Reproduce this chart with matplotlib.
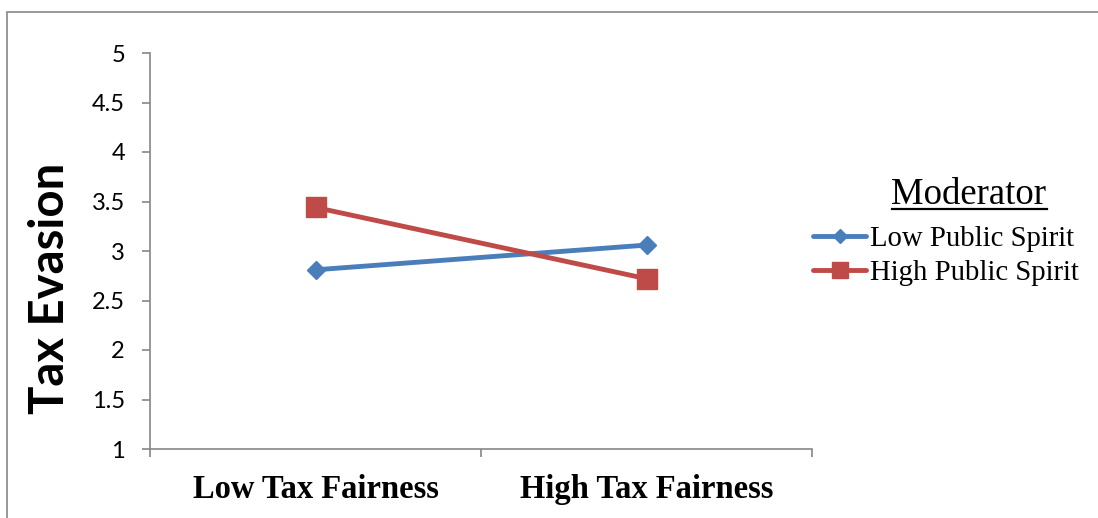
import matplotlib
matplotlib.use("Agg")
import matplotlib.pyplot as plt
from matplotlib.lines import Line2D
from matplotlib.patches import Rectangle

# Interaction of tax fairness and public spirit on tax evasion
conditions = ["Low Tax Fairness", "High Tax Fairness"]
low_spirit = [2.81, 3.06]
high_spirit = [3.44, 2.72]
series_names = ["Low Public Spirit", "High Public Spirit"]
yticks = [1, 1.5, 2, 2.5, 3, 3.5, 4, 4.5, 5]

blue = "#4A7EBB"
red = "#BE4B48"
grey = "#868686"

fig = plt.figure(figsize=(10.98, 5.18), dpi=100)
ax = fig.add_axes([150/1098, 1 - 449/518, (812 - 150)/1098, (449 - 53)/518])

x = list(range(len(conditions)))
ax.plot(x, low_spirit, color=blue, lw=3.5, marker="D", ms=9.5,
        label=series_names[0], solid_capstyle="round")
ax.plot(x, high_spirit, color=red, lw=3.5, marker="s", ms=14,
        label=series_names[1], solid_capstyle="round")

ax.set_xlim(-0.5, 1.5)
ax.set_ylim(1, 5)
ax.set_yticks(yticks)
ax.set_yticklabels([f"{v:g}" for v in yticks], family="Lato", fontsize=17)
ax.set_xticks(x)
ax.set_xticklabels(conditions, family="Liberation Serif", fontweight="bold", fontsize=23.5)
ax.set_xticks([-0.5, 0.5, 1.5], minor=True)
ax.tick_params(axis="x", which="major", length=0, pad=18)
ax.tick_params(axis="x", which="minor", length=6, width=1.2, color=grey, direction="out")
ax.tick_params(axis="y", length=6, width=1.2, color=grey, direction="out", pad=12)

for side in ["top", "right"]:
    ax.spines[side].set_visible(False)
for side in ["left", "bottom"]:
    ax.spines[side].set_color(grey)
    ax.spines[side].set_linewidth(1.2)

fig.text(50/1098, 1 - 288/518, "Tax Evasion", rotation=90, ha="center", va="center",
         family="Lato", fontweight="bold", fontsize=34)

leg = ax.legend(loc="center left", bbox_to_anchor=(813/1098, 1 - 256/518),
                bbox_transform=fig.transFigure, frameon=False,
                prop={"family": "Liberation Serif", "size": 20.7},
                handlelength=1.85, handletextpad=0.15, labelspacing=0.3,
                borderpad=0, borderaxespad=0, markerscale=0.8)

title = fig.text(969/1098, 1 - 195/518, "Moderator", ha="center", va="center",
                 family="Liberation Serif", fontsize=26.5)

# outer chart frame
fig.add_artist(Rectangle((7/1098, -0.05), 1.2, 1.05 - 12/518, transform=fig.transFigure,
                         fill=False, edgecolor=grey, lw=1.2))

# underline the legend heading
fig.canvas.draw()
bb = title.get_window_extent().transformed(fig.transFigure.inverted())
fig.add_artist(Line2D([bb.x0, bb.x1], [bb.y0 + 3/518, bb.y0 + 3/518],
                      transform=fig.transFigure, color="black", lw=1.6))

fig.savefig("out.png", dpi=100)
